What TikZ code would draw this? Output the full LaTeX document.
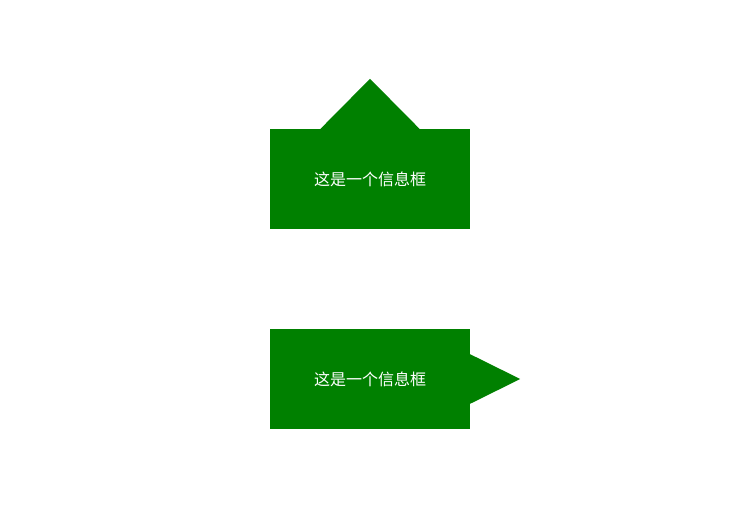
\documentclass[tikz,border=0pt]{standalone}
\usepackage{fontspec}
\newfontfamily\cjk{Noto Sans CJK SC}
\usetikzlibrary{positioning}
\usetikzlibrary{calc}
\definecolor{boxgreen}{RGB}{0,128,0}

\begin{document}
\begin{tikzpicture}[x=1pt,y=-1pt]
                % Styles
                \tikzset{
                    infobox/.style={fill=boxgreen, draw=none, minimum width=200pt,
                        minimum height=100pt, inner sep=0pt, text=white,
                        font=\cjk\fontsize{16pt}{16pt}\selectfont},
                    tip/.style={fill=boxgreen, draw=none}
                }

                % Canvas
                \useasboundingbox (0,0) rectangle (730,515);

                % Boxes
                \node[infobox] (boxA) at (370,179) {这是一个信息框};
                \node[infobox] (boxB) at (370,379) {这是一个信息框};

                % Pointers
                \fill[tip] ($(boxA.north)+(-50,0.5)$) -- ($(boxA.north)+(0,-50)$)
                    -- ($(boxA.north)+(50,0.5)$) -- cycle;
                \fill[tip] ($(boxB.east)+(-0.5,-25)$) -- ($(boxB.east)+(50,0)$)
                    -- ($(boxB.east)+(-0.5,25)$) -- cycle;
            \end{tikzpicture}
\end{document}
